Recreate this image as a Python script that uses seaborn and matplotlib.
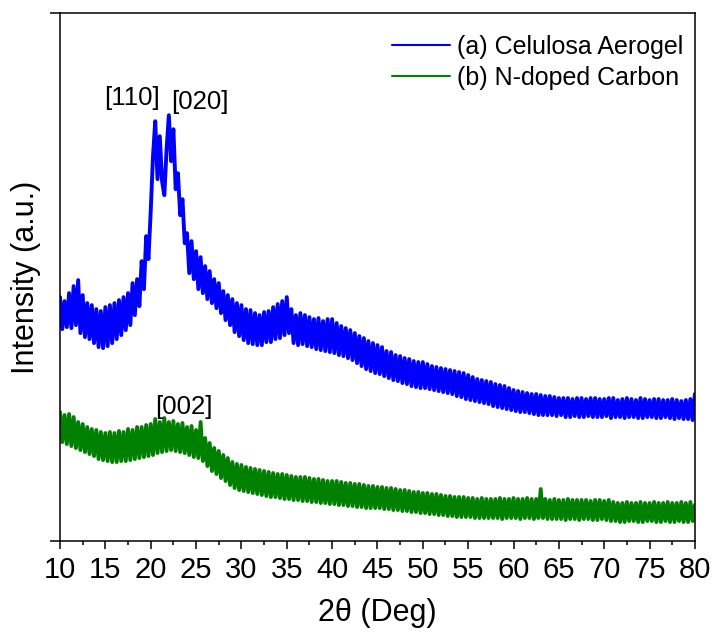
import numpy as np
import pandas as pd
import matplotlib
matplotlib.use("Agg")
import matplotlib.pyplot as plt
import seaborn as sns

# 2-theta grid, 0.25 deg step (10 .. 80)
two_theta = np.linspace(10, 80, 281)

# (a) cellulose aerogel, intensity (a.u.), 4 points per degree
aerogel = [
    244, 212, 240, 214,   # 10
    248, 213, 255, 216,   # 11
    261, 208, 246, 204,   # 12
    238, 202, 236, 198,   # 13
    232, 194, 230, 193,   # 14
    234, 195, 236, 198,   # 15
    238, 202, 241, 206,   # 16
    244, 211, 248, 216,   # 17
    258, 226, 262, 235,   # 18
    280, 252, 305, 282,   # 19
    330, 385, 420, 362,   # 20
    405, 360, 346, 392,   # 21
    426, 380, 412, 352,   # 22
    368, 326, 342, 298,   # 23
    308, 268, 300, 262,   # 24
    290, 252, 284, 248,   # 25
    275, 242, 270, 238,   # 26
    262, 233, 258, 228,   # 27
    250, 221, 246, 216,   # 28
    242, 209, 238, 205,   # 29
    236, 201, 232, 198,   # 30
    231, 197, 228, 196,   # 31
    226, 196, 229, 199,   # 32
    230, 199, 234, 202,   # 33
    237, 203, 240, 206,   # 34
    244, 208, 232, 198,   # 35
    226, 196, 228, 197,   # 36
    226, 195, 224, 194,   # 37
    222, 192, 223, 191,   # 38
    220, 190, 222, 189,   # 39
    222, 188, 218, 186,   # 40
    215, 185, 213, 183,   # 41
    211, 181, 208, 178,   # 42
    205, 175, 203, 172,   # 43
    200, 170, 198, 168,   # 44
    196, 167, 194, 165,   # 45
    190, 163, 189, 161,   # 46
    186, 160, 185, 158,   # 47
    183, 157, 182, 155,   # 48
    180, 154, 179, 153,   # 49
    179, 153, 177, 152,   # 50
    175, 151, 174, 150,   # 51
    173, 149, 172, 148,   # 52
    171, 147, 170, 145,   # 53
    169, 144, 168, 142,   # 54
    166, 141, 164, 140,   # 55
    162, 139, 161, 138,   # 56
    160, 137, 159, 135,   # 57
    157, 134, 156, 133,   # 58
    155, 132, 153, 131,   # 59
    151, 130, 150, 129,   # 60
    149, 129, 148, 128,   # 61
    147, 127, 147, 126,   # 62
    146, 126, 145, 126,   # 63
    145, 126, 144, 125,   # 64
    143, 126, 143, 124,   # 65
    143, 124, 142, 125,   # 66
    143, 124, 143, 124,   # 67
    142, 125, 143, 124,   # 68
    143, 124, 142, 124,   # 69
    142, 125, 143, 123,   # 70
    143, 124, 141, 124,   # 71
    142, 123, 143, 124,   # 72
    142, 124, 141, 123,   # 73
    143, 123, 142, 124,   # 74
    141, 124, 142, 123,   # 75
    142, 123, 141, 124,   # 76
    141, 123, 142, 122,   # 77
    141, 123, 140, 122,   # 78
    141, 122, 142, 121,   # 79
    147,                  # 80
]

# (b) N-doped carbon
carbon = [
    129, 99, 126, 97,     # 10
    127, 95, 124, 93,     # 11
    119, 91, 117, 89,     # 12
    114, 87, 112, 85,     # 13
    111, 82, 109, 81,     # 14
    108, 80, 109, 79,     # 15
    108, 79, 110, 80,     # 16
    109, 80, 112, 81,     # 17
    111, 82, 114, 83,     # 18
    114, 84, 116, 85,     # 19
    117, 86, 122, 88,     # 20
    119, 89, 123, 90,     # 21
    119, 91, 120, 90,     # 22
    117, 89, 118, 88,     # 23
    114, 86, 115, 84,     # 24
    111, 83, 119, 80,     # 25
    103, 75, 98, 70,      # 26
    93, 67, 90, 63,       # 27
    86, 60, 83, 56,       # 28
    79, 53, 77, 51,       # 29
    76, 50, 74, 49,       # 30
    73, 48, 72, 47,       # 31
    71, 46, 70, 45,       # 32
    69, 44, 68, 44,       # 33
    67, 43, 67, 42,       # 34
    66, 42, 65, 41,       # 35
    64, 41, 64, 40,       # 36
    64, 40, 63, 39,       # 37
    62, 39, 62, 38,       # 38
    61, 38, 60, 37,       # 39
    60, 37, 60, 36,       # 40
    59, 36, 58, 35,       # 41
    58, 35, 57, 34,       # 42
    57, 34, 56, 33,       # 43
    55, 33, 55, 33,       # 44
    54, 33, 54, 32,       # 45
    53, 32, 53, 31,       # 46
    52, 31, 51, 30,       # 47
    51, 30, 50, 29,       # 48
    49, 29, 49, 28,       # 49
    48, 28, 48, 27,       # 50
    47, 27, 47, 26,       # 51
    46, 26, 45, 25,       # 52
    45, 25, 44, 24,       # 53
    44, 24, 44, 24,       # 54
    43, 24, 43, 23,       # 55
    42, 23, 43, 23,       # 56
    42, 23, 42, 23,       # 57
    42, 23, 43, 22,       # 58
    42, 23, 42, 23,       # 59
    43, 23, 42, 22,       # 60
    42, 23, 43, 23,       # 61
    42, 22, 42, 23,       # 62
    52, 23, 42, 22,       # 63
    41, 22, 42, 22,       # 64
    41, 22, 41, 21,       # 65
    42, 22, 41, 22,       # 66
    41, 21, 41, 22,       # 67
    41, 22, 40, 21,       # 68
    41, 21, 41, 22,       # 69
    40, 21, 41, 20,       # 70
    39, 20, 38, 19,       # 71
    38, 19, 39, 20,       # 72
    38, 20, 38, 19,       # 73
    39, 19, 38, 20,       # 74
    38, 20, 39, 19,       # 75
    38, 19, 38, 20,       # 76
    39, 19, 38, 19,       # 77
    38, 20, 39, 19,       # 78
    38, 19, 39, 20,       # 79
    36,                   # 80
]

# peak labels: text, 2theta, intensity
peak_labels = ["[110]", "[020]", "[002]"]
peak_x = [17.9, 25.4, 23.7]
peak_y = [443, 439, 134]

series_names = ["(a) Celulosa Aerogel", "(b) N-doped Carbon"]
series_colors = ["#0000FF", "#008000"]

df = pd.DataFrame({"two_theta": two_theta, "aerogel": aerogel, "carbon": carbon})

sns.set_style("ticks")
plt.rcParams["font.family"] = ["Liberation Sans", "DejaVu Sans"]
plt.rcParams["text.color"] = "black"
plt.rcParams["axes.labelcolor"] = "black"

fig = plt.figure(figsize=(7.12, 6.32), dpi=100)
ax = fig.add_axes([0.0843, 0.144, 0.8917, 0.835])

for col, name, color in zip(["aerogel", "carbon"], series_names, series_colors):
    sns.lineplot(data=df, x="two_theta", y=col, ax=ax, color=color,
                 linewidth=2.8, label=name, estimator=None)

for txt, px, py in zip(peak_labels, peak_x, peak_y):
    ax.text(px, py, txt, fontsize=18.5, ha="center", va="center", color="black")

ax.set_xlim(10, 80)
ax.set_ylim(0, 528)
ax.set_xticks(np.arange(10, 81, 5))
ax.set_xticks(np.arange(12.5, 80, 5), minor=True)
ax.set_yticks([0, 528])
ax.set_yticklabels([])
ax.tick_params(axis="x", which="major", direction="out", length=6, width=1.1,
               labelsize=21, pad=5, colors="black")
ax.tick_params(axis="x", which="minor", direction="out", length=3, width=1.1,
               colors="black")
ax.tick_params(axis="y", direction="out", length=7, width=1.1, colors="black")
for s in ax.spines.values():
    s.set_visible(True)
    s.set_linewidth(1.1)
    s.set_color("black")

ax.set_xlabel("2θ (Deg)", fontsize=22, labelpad=10)
ax.set_ylabel("Intensity (a.u.)", fontsize=22, labelpad=3)

leg = ax.legend(loc="upper right", frameon=False, fontsize=18,
                handlelength=2.3, handletextpad=0.28, labelspacing=0.28,
                borderaxespad=0.2, bbox_to_anchor=(1.005, 0.987))
for line in leg.get_lines():
    line.set_linewidth(1.5)
for t in leg.get_texts():
    t.set_color("black")

fig.savefig("out.png", dpi=100)
